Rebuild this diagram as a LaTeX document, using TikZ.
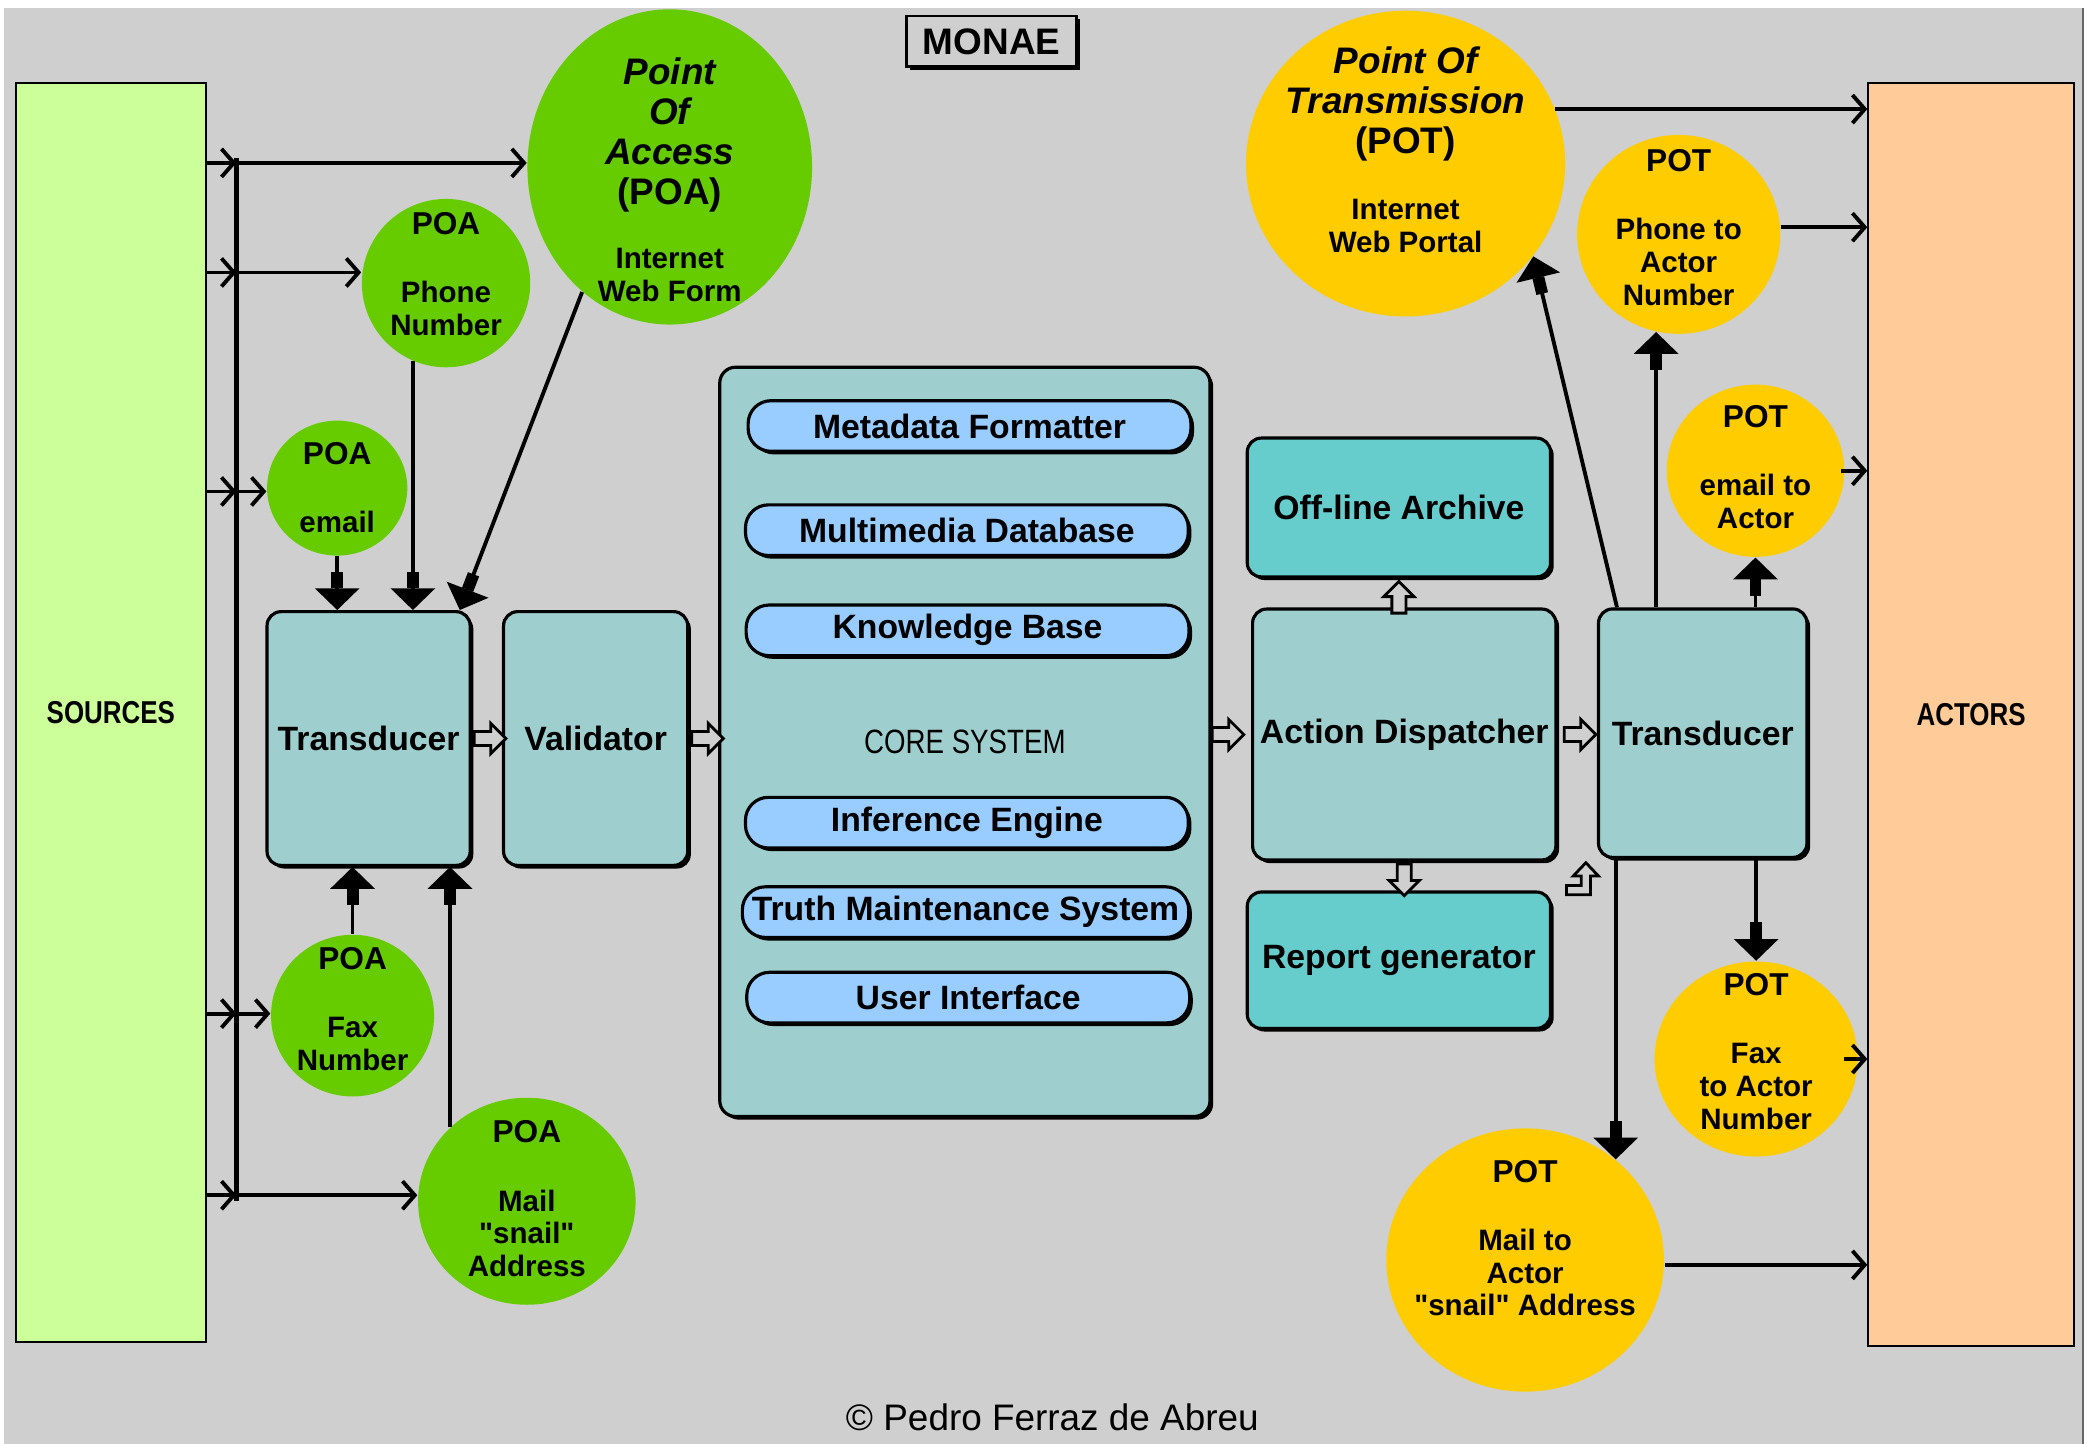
\documentclass[tikz,border=0pt]{standalone}
\usepackage{fontspec}
\setmainfont{Liberation Sans}
\newfontfamily\narrowfont{Liberation Sans}[FakeStretch=0.82]
\usepackage{tikz}
\usetikzlibrary{shapes,arrows.meta,positioning,shadows}

\definecolor{bggray}{RGB}{207,207,207}
\definecolor{srcgreen}{RGB}{204,255,153}
\definecolor{actpeach}{RGB}{255,204,153}
\definecolor{poagreen}{RGB}{102,204,0}
\definecolor{potyellow}{RGB}{255,204,0}
\definecolor{unitteal}{RGB}{158,206,206}
\definecolor{storecyan}{RGB}{102,204,204}
\definecolor{modblue}{RGB}{153,204,255}

\newcommand{\kind}[1]{{\fontsize{9}{9.3}\selectfont #1}}
\newcommand{\longname}[1]{{\fontsize{10.5}{9.3}\selectfont #1}}

\begin{document}
\setlength{\lineskiplimit}{-20pt}
\begin{tikzpicture}[x=0.38pt,y=-0.38pt,
		unit/.style={draw,line width=0.9pt,rounded corners=4pt,fill=unitteal,inner sep=1pt,
			font=\bfseries\fontsize{9.6}{11}\selectfont,
			drop shadow={shadow xshift=0.9pt,shadow yshift=-0.9pt,opacity=1,fill=black}},
		store/.style={unit,fill=storecyan},
		module/.style={unit,fill=modblue,rounded corners=6.5pt,minimum width=126pt,minimum height=14.4pt},
		side/.style={draw,line width=0.6pt,font=\narrowfont\bfseries\fontsize{9}{11}\selectfont},
		poa/.style={ellipse,fill=poagreen,inner sep=0pt},
		pot/.style={ellipse,fill=potyellow,inner sep=0pt},
		say/.style={align=center,inner sep=0pt,font=\bfseries\fontsize{8.4}{9.3}\selectfont},
		flow/.style={line width=1.1pt,-{Straight Barb[length=3.5pt,width=8pt]}},
		feed/.style={line width=1.1pt,-{Rectangle[length=4.7pt,width=3.4pt]Triangle[length=6.2pt,width=12.5pt]}},
		pass/.style={single arrow,draw,fill=bggray,line width=0.8pt,inner sep=1.6pt,minimum height=9pt,single arrow head extend=2.3pt}]
	\useasboundingbox (0,0) rectangle (1568,1081);
	\fill[bggray] (3,6) rectangle (1560,1081);
	\draw[black!60,line width=0.6pt] (1560,6) -- (1560,1081);

	\draw (83,533.5) node[side,fill=srcgreen,minimum width=54pt,minimum height=358.3pt] (sources) {SOURCES};
	\draw (1476,535) node[side,fill=actpeach,minimum width=58.5pt,minimum height=359.5pt] (actors) {ACTORS};
	\draw (742.5,31) node[draw,fill=bggray,line width=0.8pt,minimum width=48.3pt,minimum height=14.4pt,
		font=\bfseries\fontsize{10.5}{12}\selectfont,
		drop shadow={shadow xshift=0.9pt,shadow yshift=-0.9pt,opacity=1,fill=black}] (monae) {MONAE};

	\coordinate (b1) at (177,122);
	\coordinate (b2) at (177,204);
	\coordinate (b3) at (177,368);
	\coordinate (b4) at (177,759);
	\coordinate (b5) at (177,895);
	\draw[line width=1.6pt] ([yshift=1.5pt]b1) -- ([yshift=-1.5pt]b5);

	\begin{scope}
		\draw (501.5,125) node[poa,minimum width=81pt,minimum height=89.7pt,
			label={[say,yshift=-3.6pt]center:{\longname{\itshape Point}\\[2.1pt]\longname{\itshape Of}\\[2.1pt]\longname{\itshape Access}\\[2.1pt]\longname{(POA)}\\[9pt]Internet\\Web Form}}] (poabig) {};
		\draw (334,212) node[poa,minimum width=47.9pt,minimum height=47.9pt,
			label={[say,yshift=2.6pt]center:{\kind{POA}\\[10.1pt]Phone\\Number}}] (poaphone) {};
		\draw (252.5,365.5) node[poa,minimum width=39.9pt,minimum height=38.4pt,
			label={[say,yshift=0.2pt]center:{\kind{POA}\\[10.1pt]email}}] (poaemail) {};
		\draw (264,760.5) node[poa,minimum width=46.4pt,minimum height=46pt,
			label={[say,yshift=1.8pt]center:{\kind{POA}\\[10.1pt]Fax\\Number}}] (poafax) {};
		\draw (394.5,899.5) node[poa,minimum width=61.9pt,minimum height=58.9pt,
			label={[say,yshift=0.7pt]center:{\kind{POA}\\[10.1pt]Mail\\\textquotedbl snail\textquotedbl\\Address}}] (poamail) {};
	\end{scope}

	\begin{scope}
		\draw (1052.5,122.5) node[pot,minimum width=90.8pt,minimum height=87pt,
			label={[say,yshift=4pt]center:{\longname{\itshape Point Of}\\[2.1pt]\longname{\itshape Transmission}\\[2.1pt]\longname{(POT)}\\[9.6pt]Internet\\Web Portal}}] (potbig) {};
		\draw (1257,175.5) node[pot,minimum width=57.8pt,minimum height=56.6pt,
			label={[say,yshift=1.9pt]center:{\kind{POT}\\[10.1pt]Phone to\\Actor\\Number}}] (potphone) {};
		\draw (1314.5,352.5) node[pot,minimum width=50.5pt,minimum height=49pt,
			label={[say,yshift=1.1pt]center:{\kind{POT}\\[10.1pt]email to\\Actor}}] (potemail) {};
		\draw (1315,793) node[pot,minimum width=57.8pt,minimum height=55.5pt,
			label={[say,yshift=2.1pt]center:{\kind{POT}\\[10.1pt]Fax\\to Actor\\Number}}] (potfax) {};
		\draw (1142,943.5) node[pot,minimum width=79pt,minimum height=74.9pt,
			label={[say,yshift=6.2pt]center:{\kind{POT}\\[10.1pt]Mail to\\Actor\\\textquotedbl snail\textquotedbl{} Address}}] (potmail) {};
	\end{scope}

	\draw (276,553) node[unit,minimum width=57.8pt,minimum height=72.2pt] (tdl) {Transducer};
	\draw (446,553) node[unit,minimum width=52.4pt,minimum height=72.2pt] (val) {Validator};
	\draw (722.5,555.5) node[unit,rounded corners=4.5pt,minimum width=139.5pt,minimum height=213.2pt,
		font=\narrowfont\fontsize{9.6}{11}\selectfont] (core) {CORE SYSTEM};
	\draw (726,319) node[module] (meta) {Metadata Formatter};
	\draw (724,397) node[module] (mmdb) {Multimedia Database};
	\draw (724.5,472) node[module] (kb) {Knowledge Base};
	\draw (724,616) node[module] (ie) {Inference Engine};
	\draw (723,683) node[module,minimum width=127pt] (tms) {Truth Maintenance System};
	\draw (725,747) node[module] (ui) {User Interface};
	\draw (1047.5,380) node[store,minimum width=86.3pt,minimum height=39.5pt] (archive) {Off-line Archive};
	\draw (1051.5,550) node[unit,minimum width=86.3pt,minimum height=71.4pt] (ad) {Action Dispatcher};
	\draw (1047.5,719) node[store,minimum width=86.3pt,minimum height=38.8pt] (report) {Report generator};
	\draw (1275,549) node[unit,minimum width=59.3pt,minimum height=70.7pt] (tdr) {Transducer};

	\node[pass,right=0.3pt of tdl] (p1) {};
	\node[pass,right=0.3pt of val] (p2) {};
	\node[pass,left=1.5pt of ad] (p3) {};
	\node[pass,right=1.5pt of ad] (p4) {};
	\node[pass,shape border rotate=90,below=0.3pt of archive] (p5) {};
	\node[pass,shape border rotate=270,below=0.3pt of ad] (p6) {};
	\draw[line width=0.8pt,fill=bggray] (1187.5,646) -- (1197,656) -- (1191,656) -- (1191,670) -- (1173,670)
		-- (1173,663) -- (1184,663) -- (1184,656) -- (1178,656) -- cycle;

	\foreach \b in {b1,b2,b3,b4,b5}
		\draw[flow] (sources.east |- \b) -- (\b);
	\draw[flow] (b1) -- (b1 -| poabig.west);
	\draw[flow] (b2) -- (b2 -| poaphone.west);
	\draw[flow] (b3) -- (b3 -| poaemail.west);
	\draw[flow] (b4) -- (b4 -| poafax.west);
	\draw[flow] (b5) -- (b5 -| poamail.west);

	\draw[feed] (poaemail.south) -- (poaemail.south |- tdl.north);
	\draw[feed] (poaphone.247) -- (poaphone.247 |- tdl.north);
	\draw[feed] (poabig.235) -- ([xshift=-3.4pt]tdl.north east);
	\draw[feed] (poafax.north) -- (poafax.north |- tdl.south);
	\draw[feed] (poamail.136) -- (poamail.136 |- tdl.south);

	\draw[feed] ([xshift=5.7pt]tdr.north west) -- (potbig.-36);
	\draw[feed] (potphone.257 |- tdr.north) -- (potphone.257);
	\draw[feed] (potemail.south |- tdr.north) -- (potemail.south);
	\draw[feed] (potfax.north |- tdr.south) -- (potfax.north);
	\draw[feed] (potmail.48 |- tdr.south) -- (potmail.48);

	\draw[flow] (potbig.20) -- (potbig.20 -| actors.west);
	\draw[flow] (potphone.4) -- (potphone.4 -| actors.west);
	\draw[flow] ([xshift=-1pt]potemail.east) -- (potemail.east -| actors.west);
	\draw[flow] ([xshift=-4pt]potfax.east) -- (potfax.east -| actors.west);
	\draw[flow] (potmail.-2) -- (potmail.-2 -| actors.west);

	\draw (788,1061) node[font=\fontsize{10.5}{12}\selectfont] (credit) {© Pedro Ferraz de Abreu};
\end{tikzpicture}
\end{document}
